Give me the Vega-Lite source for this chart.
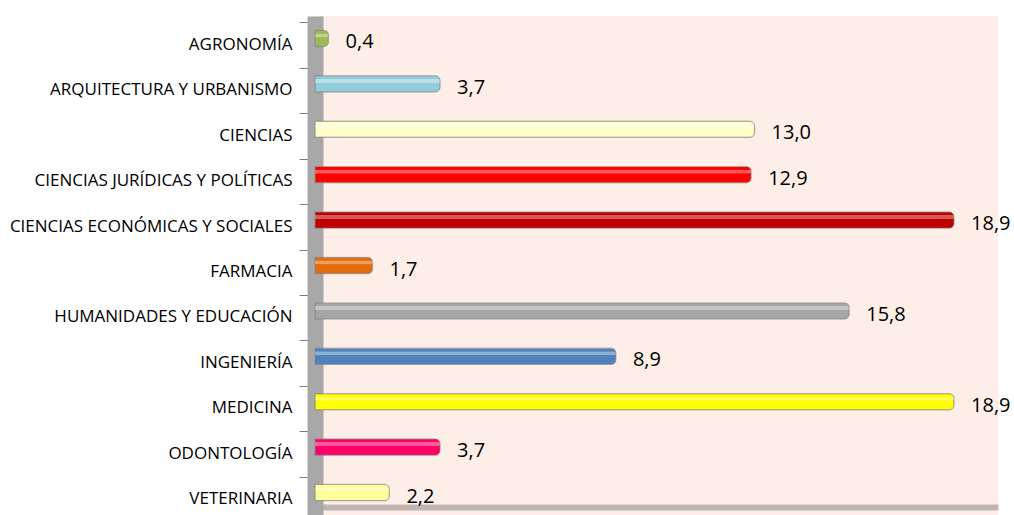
{
  "$schema": "https://vega.github.io/schema/vega-lite/v6.json",
  "width": 683,
  "height": 499,
  "autosize": {"type": "none"},
  "padding": {"left": 315, "top": 16, "right": 16, "bottom": 0},
  "background": "white",
  "config": {
    "view": {"fill": "#fdeee7", "stroke": null},
    "locale": {"number": {"decimal": ",", "thousands": ".", "grouping": [3], "currency": ["", " €"]}},
    "font": "Open Sans"
  },
  "data": {
    "values": [
      {"facultad": "AGRONOMÍA", "valor": 0.4, "color": "#9bbb59"},
      {"facultad": "ARQUITECTURA Y URBANISMO", "valor": 3.7, "color": "#93cddd"},
      {"facultad": "CIENCIAS", "valor": 13.0, "color": "#ffffcc"},
      {"facultad": "CIENCIAS JURÍDICAS Y POLÍTICAS", "valor": 12.9, "color": "#ff0000"},
      {"facultad": "CIENCIAS ECONÓMICAS Y SOCIALES", "valor": 18.9, "color": "#c00000"},
      {"facultad": "FARMACIA", "valor": 1.7, "color": "#e46c0a"},
      {"facultad": "HUMANIDADES Y EDUCACIÓN", "valor": 15.8, "color": "#a6a6a6"},
      {"facultad": "INGENIERÍA", "valor": 8.9, "color": "#4f81bd"},
      {"facultad": "MEDICINA", "valor": 18.9, "color": "#ffff00"},
      {"facultad": "ODONTOLOGÍA", "valor": 3.7, "color": "#ff0066"},
      {"facultad": "VETERINARIA", "valor": 2.2, "color": "#ffff99"}
    ]
  },
  "encoding": {
    "y": {
      "field": "facultad",
      "type": "nominal",
      "sort": null,
      "scale": {"paddingInner": 0.64, "paddingOuter": 0.315},
      "axis": {
        "title": null,
        "domainColor": "#a8a8a8",
        "domainWidth": 16,
        "tickSize": 16,
        "tickOffset": -16,
        "tickColor": "#808080",
        "tickWidth": 1,
        "labelPadding": 7,
        "labelFontSize": 17,
        "labelLimit": 320,
        "labelOffset": 22,
        "labelColor": "#000000",
        "labelFont": "Open Sans"
      }
    },
    "x": {
      "field": "valor",
      "type": "quantitative",
      "scale": {"domain": [0, 20.2], "nice": false},
      "axis": {
        "title": null,
        "labels": false,
        "ticks": false,
        "grid": false,
        "domainColor": "#bfb6b3",
        "domainWidth": 6,
        "offset": -8
      }
    }
  },
  "layer": [
    {
      "mark": {"type": "bar", "cornerRadiusEnd": 5, "strokeWidth": 1.2, "stroke": "#7f7f7f", "strokeOpacity": 0.5},
      "encoding": {
        "color": {"field": "color", "type": "nominal", "scale": null, "legend": null}
      }
    },
    {
      "mark": {"type": "bar", "height": 4, "yOffset": -3, "color": "white", "opacity": 0.35, "cornerRadiusEnd": 2}
    },
    {
      "mark": {"type": "text", "align": "left", "dx": 17, "dy": 4, "fontSize": 20, "color": "#000000", "font": "Open Sans"},
      "encoding": {
        "text": {"field": "valor", "type": "quantitative", "format": ".1f"}
      }
    }
  ]
}
